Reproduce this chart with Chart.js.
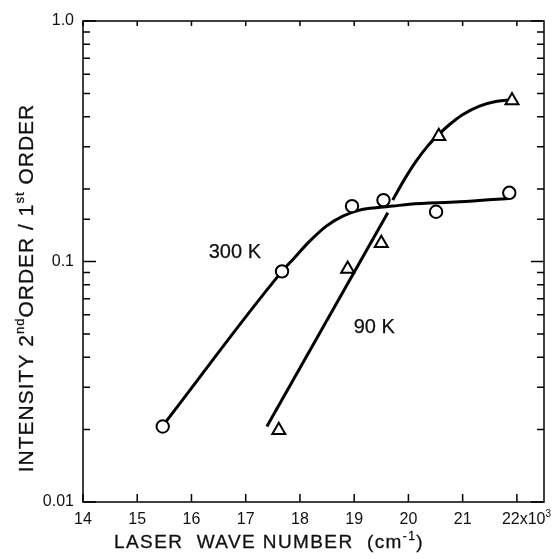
<!DOCTYPE html>
<html>
<head>
<meta charset="utf-8">
<script src="https://cdn.jsdelivr.net/npm/chart.js@4.4.1/dist/chart.umd.min.js"></script>
<style>
  html, body { margin: 0; padding: 0; background: #fff; }
  canvas { display: block; }
</style>
</head>
<body>
<canvas id="grafico" width="554" height="559"></canvas>
<script>
// measured points (x in 10^3 cm-1)
const wave300 = [15.47, 17.67, 18.96, 19.54, 20.51, 21.86];
const ratio300 = [0.0206, 0.091, 0.170, 0.180, 0.161, 0.193];
const wave90 = [17.61, 18.88, 19.50, 20.56, 21.91];
const ratio90 = [0.0199, 0.093, 0.119, 0.332, 0.467];

// hand drawn curves
const curve300X = [15.51, 17.67, 17.87, 18.18, 18.48, 18.79, 19.10, 19.40, 19.71, 20.02, 20.94, 21.85];
const curve300Y = [0.0213, 0.091, 0.102, 0.1215, 0.140, 0.1545, 0.1636, 0.1674, 0.170, 0.1729, 0.177, 0.183];
const curve90LowX = [17.39, 19.62];
const curve90LowY = [0.0206, 0.1595];
const curve90HighX = [19.71, 19.93, 20.13, 20.35, 20.55, 20.77, 20.99, 21.31, 21.61, 21.83];
const curve90HighY = [0.180, 0.220, 0.259, 0.301, 0.336, 0.373, 0.407, 0.443, 0.463, 0.469];

const yLabels = { 0.01: '0.01', 0.1: '0.1', 1: '1.0' };

const FONT = '"Liberation Sans", Arial, sans-serif';
const INK = '#111';

const pares = (xs, ys) => xs.map((x, i) => ({ x, y: ys[i] }));

function larguraPartes(ctx, partes, size) {
  let w = 0;
  partes.forEach(([t, sup]) => {
    ctx.font = `${sup ? Math.round(size * 0.62) : size}px ${FONT}`;
    w += ctx.measureText(t).width;
  });
  return w;
}

// texto com expoentes; um traço fino deixa a letra um pouco mais cheia
function desenhaPartes(ctx, partes, x, y, size) {
  let cx = x;
  partes.forEach(([t, sup]) => {
    ctx.font = `${sup ? Math.round(size * 0.62) : size}px ${FONT}`;
    const ty = sup ? y - size * 0.42 : y;
    ctx.fillText(t, cx, ty);
    ctx.strokeText(t, cx, ty);
    cx += ctx.measureText(t).width;
  });
}

const decor = {
  id: 'decor',
  beforeDatasetsDraw(chart) {
    const { ctx, chartArea: a, scales: { x, y } } = chart;
    ctx.save();
    ctx.strokeStyle = '#000';
    ctx.lineWidth = 1.5;
    ctx.strokeRect(a.left, a.top, a.right - a.left, a.bottom - a.top);

    ctx.beginPath();
    x.ticks.forEach(t => {
      const px = x.getPixelForValue(t.value);
      ctx.moveTo(px, a.bottom); ctx.lineTo(px, a.bottom - 8);
      ctx.moveTo(px, a.top); ctx.lineTo(px, a.top + 5);
    });
    y.ticks.forEach(t => {
      const py = y.getPixelForValue(t.value);
      const lg = Math.log10(t.value);
      const major = Math.abs(lg - Math.round(lg)) < 1e-6;
      const len = major ? 13 : 7;
      ctx.moveTo(a.left, py); ctx.lineTo(a.left + len, py);
      ctx.moveTo(a.right, py); ctx.lineTo(a.right - len, py);
    });
    ctx.stroke();
    ctx.restore();
  },
  afterDraw(chart) {
    const { ctx, chartArea: a, scales: { x, y } } = chart;
    ctx.save();
    ctx.fillStyle = INK;
    ctx.strokeStyle = INK;
    ctx.lineWidth = 0.25;

    // curve labels
    ctx.textAlign = 'center';
    ctx.textBaseline = 'middle';
    ctx.font = `20px ${FONT}`;
    [['300 K', 16.8, 0.109], ['90 K', 19.37, 0.0531]].forEach(([t, vx, vy]) => {
      const px = x.getPixelForValue(vx), py = y.getPixelForValue(vy);
      ctx.fillText(t, px, py);
      ctx.strokeText(t, px, py);
    });

    ctx.textAlign = 'left';
    ctx.textBaseline = 'alphabetic';

    // last x tick label with the multiplier
    const p22 = x.getPixelForValue(22);
    ctx.lineWidth = 0.01;
    desenhaPartes(ctx, [['22x10'], ['3', true]], p22 - 15, a.bottom + 22, 16);
    ctx.lineWidth = 0.3;

    // x title
    ctx.letterSpacing = '1.4px';
    const tituloX = [['LASER  WAVE NUMBER  (cm'], ['-1', true], [')']];
    const wx = larguraPartes(ctx, tituloX, 19);
    desenhaPartes(ctx, tituloX, 269 - wx / 2, 548, 19);

    // y title, rotated
    ctx.letterSpacing = '1px';
    const tituloY = [['INTENSITY 2'], ['nd', true], ['ORDER / 1'], ['st', true], [' ORDER']];
    const wy = larguraPartes(ctx, tituloY, 21);
    ctx.translate(33, 288);
    ctx.rotate(-Math.PI / 2);
    desenhaPartes(ctx, tituloY, -wy / 2, 0, 21);
    ctx.restore();
  }
};

const ctx = document.getElementById('grafico').getContext('2d');

new Chart(ctx, {
  type: 'scatter',
  data: {
    datasets: [
      {
        label: '300 K',
        data: pares(wave300, ratio300),
        pointStyle: 'circle',
        pointRadius: 6.2,
        pointBorderWidth: 2,
        borderColor: '#000',
        backgroundColor: '#fff',
        order: 1
      },
      {
        label: '90 K',
        data: pares(wave90, ratio90),
        pointStyle: 'triangle',
        pointRadius: 7.5,
        pointBorderWidth: 2,
        borderColor: '#000',
        backgroundColor: '#fff',
        order: 1
      },
      {
        label: 'curva 300 K',
        data: pares(curve300X, curve300Y),
        showLine: true,
        pointRadius: 0,
        borderColor: '#000',
        borderWidth: 3,
        cubicInterpolationMode: 'monotone',
        order: 2
      },
      {
        label: 'curva 90 K a',
        data: pares(curve90LowX, curve90LowY),
        showLine: true,
        pointRadius: 0,
        borderColor: '#000',
        borderWidth: 3,
        order: 2
      },
      {
        label: 'curva 90 K b',
        data: pares(curve90HighX, curve90HighY),
        showLine: true,
        pointRadius: 0,
        borderColor: '#000',
        borderWidth: 3,
        cubicInterpolationMode: 'monotone',
        order: 2
      }
    ]
  },
  options: {
    responsive: false,
    animation: false,
    layout: { padding: { top: 21, right: 10, left: 0, bottom: 0 } },
    plugins: {
      legend: { display: false },
      tooltip: { enabled: false }
    },
    scales: {
      x: {
        type: 'linear',
        min: 14,
        max: 22.5,
        afterFit: s => { s.height = 57; },
        grid: { display: false, drawTicks: false },
        border: { display: false },
        ticks: {
          stepSize: 1,
          includeBounds: false,
          autoSkip: false,
          maxRotation: 0,
          padding: 8,
          color: INK,
          font: { family: FONT, size: 16 },
          callback: v => (v === 22 ? '' : String(v))
        }
      },
      y: {
        type: 'logarithmic',
        min: 0.01,
        max: 1,
        afterFit: s => { s.width = 83; },
        grid: { display: false, drawTicks: false },
        border: { display: false },
        ticks: {
          autoSkip: false,
          padding: 9,
          color: INK,
          font: { family: FONT, size: 16 },
          callback: v => yLabels[v] || ''
        }
      }
    }
  },
  plugins: [decor]
});
</script>
</body>
</html>
